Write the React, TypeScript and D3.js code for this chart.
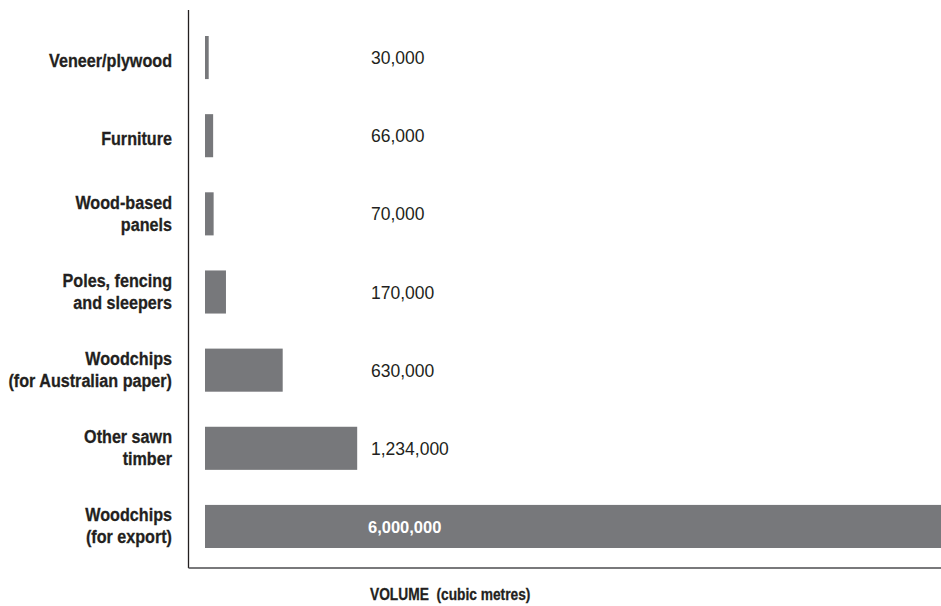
import React from "react";
import * as d3 from "d3";

const categories: string[][] = [
  ["Veneer/plywood"],
  ["Furniture"],
  ["Wood-based", "panels"],
  ["Poles, fencing", "and sleepers"],
  ["Woodchips", "(for Australian paper)"],
  ["Other sawn", "timber"],
  ["Woodchips", "(for export)"],
];
const volumes: number[] = [30000, 66000, 70000, 170000, 630000, 1234000, 6000000];
const axisTitle = "VOLUME  (cubic metres)";

const W = 941;
const H = 606;
const BAR = "#77787b";
const TXT = "#231f20";

export default function App() {
  const keys = categories.map((c) => c.join(" "));
  const y = d3.scaleBand<string>().domain(keys).range([36, 548]).paddingInner(0.4487).paddingOuter(0);
  const x = d3.scaleLinear().domain([0, 6000000]).range([205, 945]);
  const fmt = d3.format(",");
  const axisX = 188.5;
  const labelX = 172;
  const valueX = 371;

  return (
    <svg width={W} height={H} style={{ position: "absolute", left: 0, top: 0, background: "#fff" }}>
      {keys.map((k, i) => {
        const y0 = y(k)!;
        const bw = y.bandwidth();
        const cy = y0 + bw / 2;
        const lines = categories[i];
        const inside = x(volumes[i]) > valueX + 100;
        return (
          <g key={k}>
            <rect x={x(0)} y={y0} width={x(volumes[i]) - x(0)} height={bw} fill={BAR} />
            <g transform={`translate(${labelX},0) scale(0.85,1)`}>
              {lines.map((ln, j) => (
                <text
                  key={j}
                  x={0}
                  y={lines.length === 1 ? cy + 9 : cy - 5 + j * 22}
                  textAnchor="end"
                  fontFamily="'Liberation Sans', Arial, sans-serif"
                  fontWeight="bold"
                  fontSize={19}
                  fill={TXT}
                  stroke={TXT}
                  strokeWidth={0.3}
                >
                  {ln}
                </text>
              ))}
            </g>
            <text
              x={inside ? valueX - 3 : valueX}
              y={cy + 6.5}
              fontFamily="'Liberation Sans', Arial, sans-serif"
              fontWeight={inside ? "bold" : "normal"}
              fontSize={inside ? 16.5 : 17.5}
              fill={inside ? "#fff" : TXT}
            >
              {fmt(volumes[i])}
            </text>
          </g>
        );
      })}
      <line x1={axisX} x2={axisX} y1={10} y2={568} stroke={TXT} strokeWidth={1.3} />
      <line x1={axisX} x2={W} y1={568} y2={568} stroke="#4d4d4f" strokeWidth={1.5} />
      <g transform={`translate(370,600) scale(0.86,1)`}>
        <text
          x={0}
          y={0}
          fontFamily="'Liberation Sans', Arial, sans-serif"
          fontWeight="bold"
          fontSize={16}
          fill={TXT}
          stroke={TXT}
          strokeWidth={0.3}
          style={{ whiteSpace: "pre" }}
        >
          {axisTitle}
        </text>
      </g>
    </svg>
  );
}
